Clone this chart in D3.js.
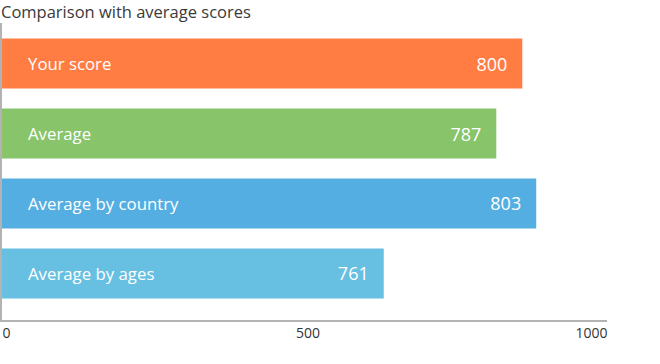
<!DOCTYPE html>
<html>
<head>
<meta charset="utf-8">
<script src="https://cdn.jsdelivr.net/npm/d3@7"></script>
<style>
  html, body { margin: 0; padding: 0; background: #fff; }
  svg { display: block; font-family: "Open Sans", sans-serif; }
</style>
</head>
<body>
<svg id="chart" width="660" height="364"></svg>
<script>
// ---- data ----
const title = "Comparison with average scores";
const categories = ["Your score", "Average", "Average by country", "Average by ages"];
const barValues = [860, 817, 883, 631];
const scoreLabels = ["800", "787", "803", "761"]; // value labels printed on bars
const colors = ["#FF7D43", "#87C46A", "#55AEE1", "#67C0E2"];
const tickValues = [0, 500, 1000];
const domainMax = 1000;

// ---- layout ----
const svg = d3.select("#chart");
const axisColor = "#b3b3b3";
const x = d3.scaleLinear().domain([0, domainMax]).range([2, 607]);
const y = d3.scaleBand().domain(categories).range([28, 309])
  .paddingInner(0.2857).paddingOuter(0.15);

// title
svg.append("text")
  .attr("x", 1).attr("y", 17.8)
  .attr("font-size", 16.5).attr("fill", "#3a3a3a")
  .text(title);

// bars
const rows = categories.map((c, i) => ({ c, v: barValues[i], lab: scoreLabels[i], col: colors[i] }));
const g = svg.append("g");
g.selectAll("rect").data(rows).join("rect")
  .attr("x", x(0))
  .attr("y", d => y(d.c))
  .attr("width", d => x(d.v) - x(0))
  .attr("height", y.bandwidth())
  .attr("fill", d => d.col);

g.selectAll("text.cat").data(rows).join("text")
  .attr("class", "cat")
  .attr("x", 28)
  .attr("y", d => y(d.c) + y.bandwidth() / 2 + 6.5)
  .attr("font-size", 16.8).attr("fill", "#fff")
  .text(d => d.c);

g.selectAll("text.val").data(rows).join("text")
  .attr("class", "val")
  .attr("x", d => x(d.v) - 15)
  .attr("y", d => y(d.c) + y.bandwidth() / 2 + 7)
  .attr("text-anchor", "end")
  .attr("font-size", 18).attr("fill", "#fff")
  .text(d => d.lab);

// left axis line
svg.append("rect").attr("x", 0).attr("y", 23).attr("width", 2).attr("height", 299).attr("fill", axisColor);

// bottom axis
const xAxis = d3.axisBottom(x).tickValues(tickValues).tickSize(0).tickPadding(0).tickFormat(d3.format("d"));
const ax = svg.append("g").attr("transform", "translate(0,321)").call(xAxis);
ax.select(".domain").attr("stroke", axisColor).attr("stroke-width", 2).attr("d", `M0,0H${x(domainMax)}`);
ax.selectAll(".tick text")
  .attr("font-family", "'Open Sans', sans-serif")
  .attr("font-size", 14).attr("fill", "#333")
  .attr("dy", null).attr("y", 17)
  .attr("text-anchor", (d, i) => i === 0 ? "start" : (i === tickValues.length - 1 ? "end" : "middle"))
  .attr("dx", (d, i) => i === 0 ? 0 : (i === tickValues.length - 1 ? 0 : 3));
</script>
</body>
</html>
